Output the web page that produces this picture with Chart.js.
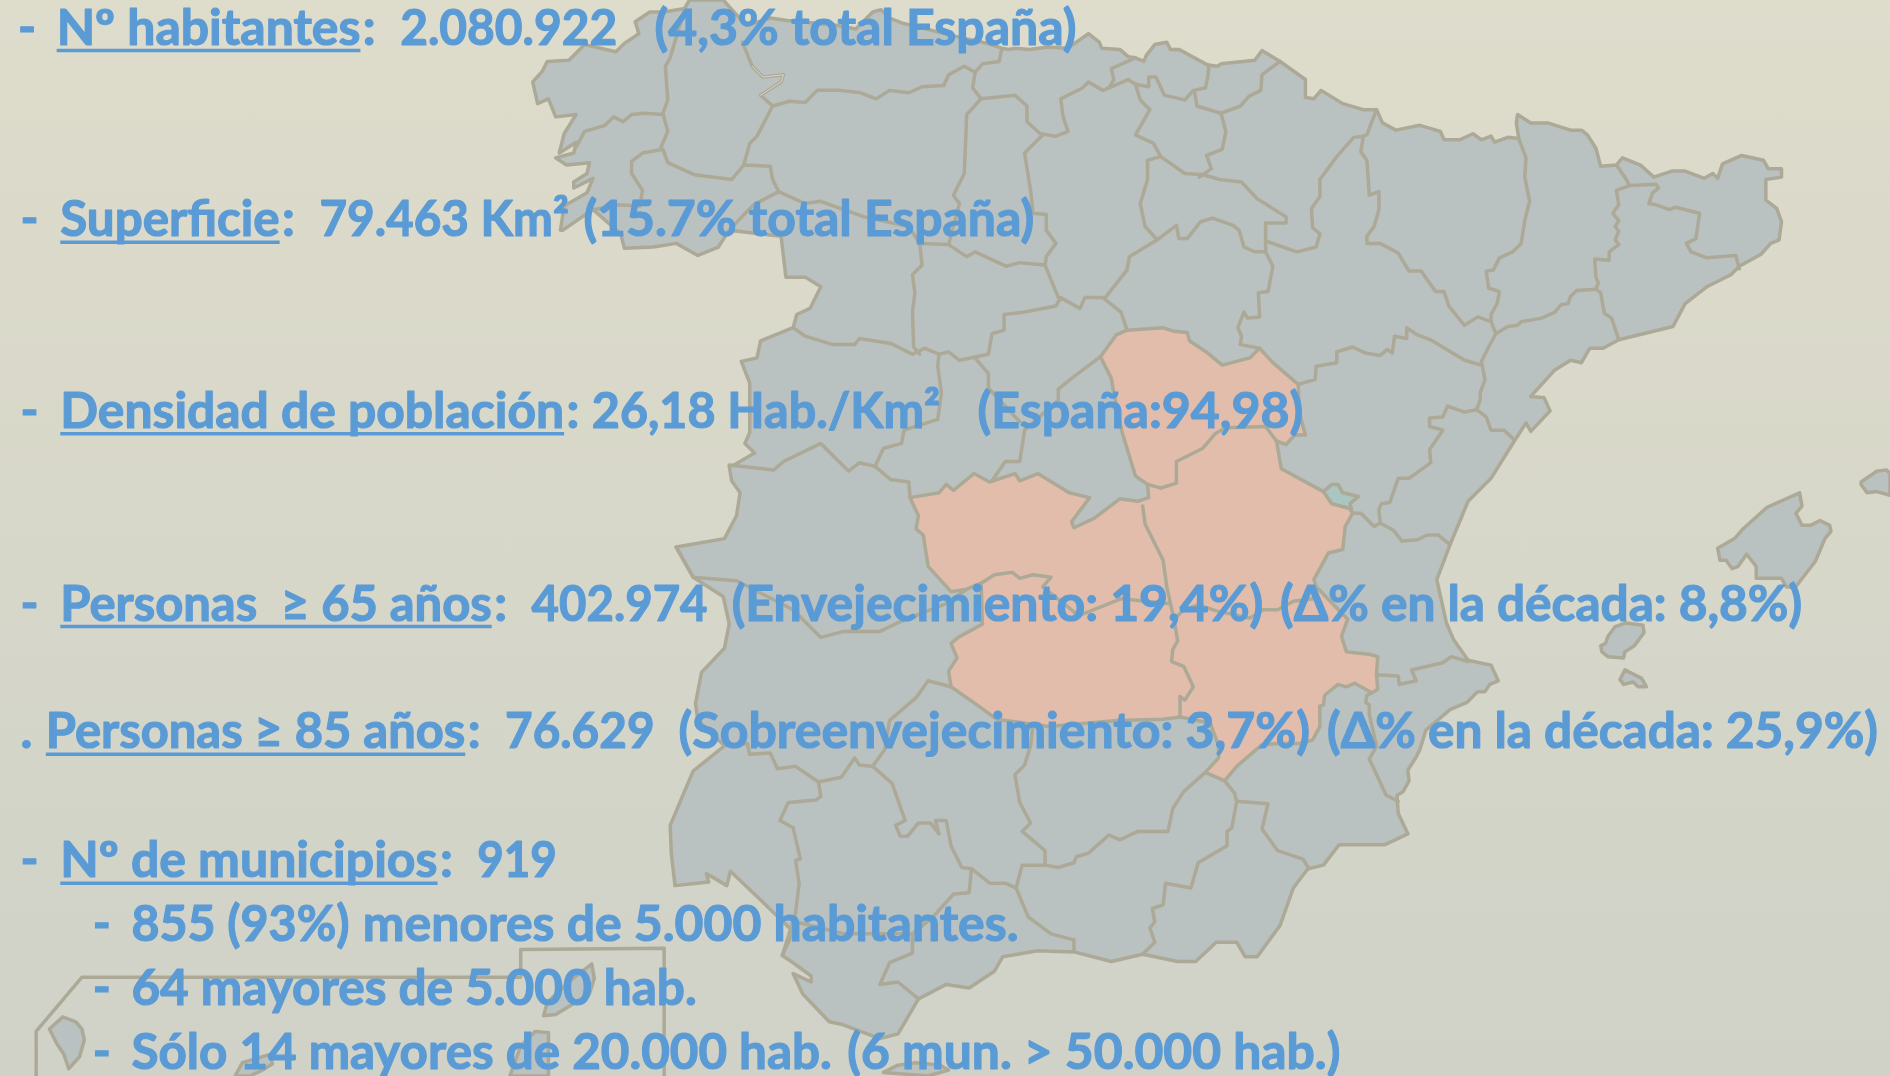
<!DOCTYPE html>
<html>
<head>
<meta charset="utf-8">
<title>Castilla-La Mancha</title>
<script src="https://cdn.jsdelivr.net/npm/chart.js@4"></script>
<style>
  html, body { margin: 0; padding: 0; background: linear-gradient(#dedccb, #d0d2c8); height: 1076px; overflow: hidden; }
  canvas { display: block; }
</style>
</head>
<body>
<canvas id="mapChart" width="1890" height="1076"></canvas>
<script>
// outlines, in the coordinates of the axes below
const mainland = [[572,0],[600,0],[619,21],[639,15],[653,17],[694,21],[710,24],[724,10],[731,8],[738,15],[748,19],[768,24],[792,30],[819,36],[831,40],[837,41],[842,40],[854,41],[870,39],[885,40],[893,35],[903,28],[912,35],[914,40],[929,41],[936,47],[942,48],[949,51],[951,46],[958,37],[968,35],[971,41],[978,41],[1002,54],[1010,55],[1013,53],[1041,50],[1047,42],[1062,51],[1083,66],[1083,81],[1090,82],[1096,75],[1114,86],[1131,91],[1142,91],[1147,102],[1158,108],[1178,104],[1195,109],[1198,116],[1211,116],[1222,111],[1229,116],[1237,113],[1240,118],[1251,114],[1260,115],[1258,102],[1259,95],[1270,102],[1284,102],[1303,108],[1312,108],[1317,112],[1324,123],[1328,138],[1341,137],[1346,131],[1361,137],[1372,147],[1387,142],[1398,142],[1414,148],[1421,144],[1425,148],[1429,136],[1445,129],[1463,133],[1467,140],[1478,140],[1478,147],[1465,149],[1465,166],[1474,173],[1478,184],[1476,199],[1469,202],[1461,211],[1443,221],[1436,228],[1416,238],[1398,252],[1388,271],[1343,282],[1330,289],[1319,289],[1312,301],[1303,299],[1290,307],[1270,329],[1281,330],[1286,341],[1270,358],[1266,351],[1257,365],[1237,397],[1218,416],[1203,452],[1192,481],[1200,517],[1206,531],[1218,548],[1237,552],[1243,565],[1236,568],[1232,574],[1226,574],[1217,583],[1203,589],[1183,606],[1178,622],[1175,628],[1168,639],[1169,648],[1164,657],[1159,660],[1160,675],[1168,692],[1149,701],[1111,701],[1098,718],[1085,721],[1073,737],[1062,768],[1043,794],[1033,794],[1026,782],[1009,782],[992,798],[977,798],[948,792],[922,798],[891,790],[861,789],[832,794],[825,806],[804,820],[785,817],[762,829],[745,858],[730,862],[698,850],[688,848],[666,825],[658,808],[673,815],[673,810],[658,799],[649,793],[658,773],[628,744],[606,723],[603,735],[586,725],[588,732],[560,735],[557,709],[556,685],[575,640],[601,619],[579,598],[577,584],[582,558],[601,538],[605,518],[600,495],[575,479],[561,454],[601,447],[611,428],[614,409],[607,399],[605,387],[609,386],[626,376],[618,368],[622,359],[622,318],[615,300],[628,297],[631,283],[658,272],[661,261],[672,256],[681,238],[668,230],[652,230],[648,196],[605,191],[596,205],[579,212],[561,202],[542,205],[518,206],[515,194],[492,174],[483,180],[467,191],[465,191],[468,171],[487,160],[492,148],[476,156],[476,151],[487,144],[489,135],[470,137],[461,131],[476,127],[478,118],[464,127],[468,111],[478,95],[461,97],[455,82],[446,86],[442,68],[450,59],[454,51],[472,50],[485,37],[511,43],[518,36],[530,28],[527,18],[539,10],[551,10],[568,7]];
const castillaLaMancha = [[913,296],[926,278],[935,274],[965,272],[974,275],[985,276],[987,283],[1002,293],[1014,303],[1037,297],[1045,289],[1056,301],[1077,319],[1078,343],[1083,361],[1074,361],[1067,369],[1059,366],[1063,389],[1098,408],[1105,418],[1120,422],[1122,426],[1116,437],[1114,456],[1102,459],[1090,481],[1092,487],[1118,514],[1113,528],[1117,541],[1136,543],[1143,545],[1142,560],[1143,572],[1138,575],[1124,567],[1117,570],[1110,568],[1099,577],[1098,585],[1095,586],[1095,603],[1089,614],[1080,617],[1060,617],[1047,618],[1026,636],[1016,648],[1000,641],[1011,629],[1011,619],[1004,600],[979,595],[965,597],[927,598],[870,603],[827,597],[812,586],[789,570],[787,557],[794,546],[789,534],[795,529],[815,518],[814,484],[802,489],[789,491],[770,470],[766,444],[760,439],[762,428],[755,413],[779,409],[785,402],[791,407],[808,393],[821,400],[842,393],[846,399],[861,393],[887,409],[904,413],[889,433],[891,438],[908,430],[929,414],[944,416],[953,413],[952,402],[942,395],[931,359],[924,326],[922,314]];
const rinconAdemuz = [[1098,408],[1105,402],[1110,402],[1114,409],[1127,412],[1120,418],[1122,426],[1120,422],[1105,418]];
const mallorca = [[1493,409],[1466,421],[1446,439],[1439,447],[1425,455],[1427,465],[1432,465],[1437,472],[1442,470],[1449,460],[1457,470],[1457,480],[1478,480],[1482,487],[1489,488],[1506,466],[1514,447],[1519,441],[1518,436],[1510,432],[1502,436],[1495,436],[1490,426],[1495,420]];
const ibiza = [[1363,519],[1349,517],[1340,520],[1334,528],[1332,534],[1328,536],[1329,541],[1334,545],[1347,546],[1348,541],[1356,536],[1364,525]];
const formentera = [[1348,556],[1344,564],[1347,568],[1355,566],[1359,570],[1366,570],[1362,563]];
const menorca = [[1544,400],[1557,391],[1565,390],[1568,393],[1568,411],[1557,408],[1549,409],[1544,402]];
const laPalma = [[52,844],[63,848],[68,854],[70,863],[66,877],[57,887],[53,875],[47,866],[41,854]];
const fuerteventura = [[491,800],[493,812],[489,825],[461,842],[451,843],[454,832],[474,813],[487,803]];
const granCanaria = [[423,893],[432,868],[444,856],[455,857],[455,893]];
const tenerife = [[195,893],[201,882],[224,875],[226,883],[216,889],[207,893]];
const ceuta = [[733,890],[745,884],[760,882],[780,884],[787,888],[770,893]];

// province borders
const canaryBox = [[30,893],[30,856],[68,811],[432,811],[432,788],[551,787],[551,893]];
const galiciaBorders = [
  [[568,7],[556,48],[552,55],[554,83],[550,94],[554,109],[548,123]],
  [[550,95],[535,94],[524,95],[517,101],[509,97],[502,104],[485,109],[478,122]],
  [[549,124],[533,127],[524,134],[524,144],[533,158],[531,171],[513,170],[492,174]],
  [[550,124],[554,135],[576,145],[607,149],[617,137]],
  [[616,35],[624,55],[633,64],[650,62],[648,68],[631,79],[641,88],[628,113],[622,119],[617,137],[639,138],[641,149],[646,159],[625,170],[605,191]]
];
const leonBorders = [
  [[641,88],[655,84],[668,85],[678,75],[697,75],[714,77],[727,82],[738,75],[754,77],[765,72],[783,71],[787,62],[800,55],[809,60],[815,53],[829,51],[831,41]],
  [[809,60],[807,73],[814,82],[842,79],[852,88],[852,101],[863,111],[876,113],[886,109],[882,97],[880,82],[898,73],[903,68],[915,75],[920,73],[936,66],[942,70],[953,72],[953,64],[959,64],[966,79],[975,81],[983,83],[990,75],[1000,73],[1002,64],[1003,54]],
  [[920,73],[924,66],[922,57],[942,48]],
  [[814,82],[802,95],[800,144],[791,162],[796,169],[787,203],[802,213],[809,209],[835,221],[846,218],[867,220],[878,247]],
  [[646,159],[668,169],[680,167],[717,180],[754,188],[763,202],[787,203]],
  [[763,202],[765,220],[757,228],[759,243],[757,259],[758,288],[763,294]],
  [[658,272],[668,279],[691,286],[709,286],[713,281],[739,285],[757,294],[767,289],[779,294],[787,292],[796,299],[820,294],[823,277],[833,274],[833,261],[850,259],[876,254],[880,247],[896,256],[900,247],[915,247],[930,259],[935,274]],
  [[865,112],[850,127],[855,158],[857,177],[868,178],[868,191],[876,202],[868,213],[867,220]],
  [[605,386],[642,390],[650,383],[681,368],[692,379],[704,391],[713,384],[726,387],[739,398],[754,400],[755,413]],
  [[726,387],[733,372],[748,368],[750,357],[778,348],[781,326],[778,304],[779,294]],
  [[809,297],[820,310],[820,322],[846,350]],
  [[913,296],[889,314],[878,323],[878,332],[850,357],[846,383],[834,383],[823,399]]
];
const northBorders = [
  [[942,70],[946,83],[954,91],[942,112],[957,119],[963,130],[952,133],[952,149],[946,169],[950,188],[960,199],[937,213],[935,224],[917,247]],
  [[960,199],[976,187],[978,198],[985,198],[996,184],[1006,181],[1023,187],[1028,191],[1032,205],[1041,209],[1050,209]],
  [[963,130],[983,144],[998,145],[1012,149],[1030,151],[1043,165],[1067,180],[1067,185],[1050,185],[1050,209],[1056,221],[1052,242],[1044,243],[1045,263],[1035,264],[1032,259],[1027,272],[1030,279],[1029,286],[1045,289]],
  [[991,76],[993,88],[1013,94],[1017,109],[1014,124],[1001,129],[1005,140],[995,147]],
  [[1062,51],[1047,62],[1046,75],[1036,80],[1029,88],[1013,94]],
  [[1050,200],[1076,209],[1092,205],[1095,194],[1089,189],[1088,173],[1095,163],[1095,149],[1109,130],[1123,114],[1131,113],[1134,112],[1142,91]],
  [[1131,113],[1129,126],[1134,133],[1136,162],[1144,159],[1144,174],[1140,188],[1134,196],[1134,202],[1145,202],[1160,210],[1169,225],[1179,225],[1191,242],[1198,242],[1202,254],[1215,270],[1226,263],[1237,267]]
];
const eastBorders = [
  [[1260,115],[1266,131],[1265,147],[1269,167],[1265,183],[1262,202],[1255,209],[1244,214],[1239,224],[1233,225],[1235,239],[1244,242],[1242,252],[1237,261],[1237,267],[1241,277]],
  [[1341,137],[1348,147],[1352,154],[1374,153],[1376,156],[1371,160],[1368,169],[1374,170],[1385,174],[1390,172],[1410,177],[1407,198],[1399,202],[1403,209],[1416,214],[1440,212],[1443,223]],
  [[1352,154],[1341,158],[1343,170],[1338,177],[1343,183],[1340,188],[1343,192],[1340,199],[1343,203],[1335,209],[1335,216],[1323,215],[1324,230],[1326,235],[1324,240],[1328,243],[1331,260],[1337,264],[1343,282]],
  [[1324,240],[1308,241],[1303,246],[1301,252],[1295,253],[1290,259],[1279,264],[1262,267],[1259,270],[1251,271],[1241,277],[1235,288],[1229,300],[1232,315],[1228,326],[1228,332],[1225,340],[1233,346],[1237,357],[1248,357],[1256,365]],
  [[1229,303],[1215,299],[1187,282],[1176,278],[1167,272],[1167,281],[1157,279],[1155,293],[1151,290],[1145,295],[1133,293],[1122,288],[1109,292],[1109,301],[1092,304],[1091,315],[1077,319]],
  [[1203,452],[1193,444],[1184,444],[1176,448],[1163,449],[1156,440],[1145,434],[1144,423],[1146,418],[1153,417],[1160,397],[1169,397],[1187,384],[1186,373],[1197,357],[1186,354],[1186,347],[1197,346],[1201,337],[1215,342],[1225,340]],
  [[1122,426],[1129,426],[1140,437],[1145,434]],
  [[1142,560],[1160,561],[1161,568],[1175,565],[1171,556],[1197,550],[1204,545],[1218,549]],
  [[1138,575],[1134,577],[1133,583],[1136,585],[1136,593],[1142,619],[1136,630],[1150,660],[1160,665]]
];
const southBorders = [
  [[561,454],[575,479],[611,482],[658,506],[681,529],[700,524],[730,524],[749,515],[785,501],[802,489]],
  [[601,619],[620,617],[622,626],[639,625],[645,638],[660,636],[679,649],[698,645],[709,629],[713,635],[724,636],[734,622],[738,598],[760,579],[770,565],[789,570]],
  [[679,649],[681,661],[677,664],[654,666],[647,681],[658,687],[664,713],[660,714],[663,733],[660,758],[649,793]],
  [[724,636],[740,650],[751,681],[743,685],[747,694],[753,694],[762,683],[772,683],[779,692],[776,681],[785,681],[789,702],[798,720],[806,721],[821,733],[834,733],[843,737]],
  [[806,721],[804,741],[791,742],[774,761],[757,775],[757,791],[738,799],[730,817],[745,815],[762,829]],
  [[660,765],[700,775],[757,775]],
  [[843,737],[848,718],[867,718],[867,706],[848,690],[855,683],[846,666],[842,643],[850,635],[855,619],[857,601]],
  [[867,718],[878,720],[891,716],[893,711],[903,708],[920,693],[929,697],[944,690],[969,690],[973,671],[982,657],[1000,641]],
  [[1016,648],[1024,658],[1026,665],[1022,687],[1018,690],[1018,702],[994,716],[988,737],[967,733],[965,751],[956,754],[958,765],[954,770],[958,782],[948,792]],
  [[1026,665],[1052,667],[1047,688],[1060,706],[1081,713],[1086,721]],
  [[843,737],[853,761],[872,775],[891,780],[891,790]]
];
const manchaBorders = [
  [[948,420],[950,435],[965,465],[968,487],[974,514],[977,532],[973,539],[972,549],[982,553],[990,570],[983,581],[979,578],[979,595]],
  [[974,514],[982,506],[994,502],[1009,507],[1037,513],[1048,506],[1060,506],[1073,499],[1090,497]],
  [[963,405],[976,401],[976,383],[998,372],[1008,360],[1017,355],[1050,354],[1059,366]],
  [[814,484],[825,477],[840,475],[846,480],[857,477],[872,479],[865,487],[895,511],[930,497],[971,501]],
  [[952,402],[963,405]]
];
const lugoGapLine = [[624,55],[633,64],[650,62],[648,68],[631,79]];

// text of the slide, one list of pieces per row
const textPieces = [
  ['-', 'Nº habitantes', ':', '2.080.922', '(4,3% total España)'],
  ['-', 'Superficie', ':', '79.463 Km²', '(15.7% total España)'],
  ['-', 'Densidad de población', ':', '26,18 Hab./Km²', '(España:94,98)'],
  ['-', 'Personas  ≥ 65 años', ':', '402.974', '(Envejecimiento: 19,4%)', '(Δ% en la década: 8,8%)'],
  ['.', 'Personas ≥ 85 años', ':', '76.629', '(Sobreenvejecimiento: 3,7%)', '(Δ% en la década: 25,9%)'],
  ['-', 'Nº de municipios', ':', '919'],
  ['-', '855 (93%)', 'menores de 5.000 habitantes.'],
  ['-', '64 mayores de 5.000 hab.'],
  ['-', 'Sólo 14 mayores de 20.000 hab.', '(6 mun. > 50.000 hab.)']
];
const pieceStart = [
  [15, 47, 301, 332, 543],
  [17, 50, 234, 265, 484],
  [17, 50, 470, 491, 811],
  [17, 50, 410, 441, 607, 1062],
  [17, 38, 388, 419, 563, 1101],
  [17, 50, 365, 396],
  [77, 109, 301],
  [77, 109],
  [77, 109, 703]
];
const pieceEnd = [
  [30, 299, 312, 512, 893],
  [32, 232, 245, 472, 858],
  [32, 468, 481, 780, 1082],
  [32, 408, 421, 587, 1048, 1495],
  [27, 386, 399, 543, 1090, 1558],
  [32, 363, 376, 462],
  [92, 290, 845],
  [92, 578],
  [92, 690, 1112]
];
const baseline = [37, 196, 355, 515, 621, 728, 781, 834, 887];
const underlineStart = [47, 50, 50, 50, 38, 50];
const underlineEnd = [299, 232, 468, 408, 386, 363];

const landColor = '#bac1c1';
const borderColor = '#ada997';
const manchaColor = '#e2bdab';
const ademuzColor = '#abc6c1';
const textColor = '#5b9bd5';

const toPoints = (list) => list.map(p => ({ x: p[0], y: p[1] }));

const shape = (list, color) => ({
    data: toPoints(list.concat([list[0]])),
    polygon: true,
    backgroundColor: color,
    borderColor: borderColor,
    borderWidth: 3.5
});

const line = (list) => ({
    data: toPoints(list),
    borderColor: borderColor,
    backgroundColor: 'transparent',
    borderWidth: 3.5
});

// fills a closed outline from the points the scatter controller placed
const polygonFill = {
    id: 'polygonFill',
    beforeDatasetDraw(chart, args) {
        const ds = chart.data.datasets[args.index];
        if (!ds.polygon) return;
        const ctx = chart.ctx;
        ctx.save();
        ctx.beginPath();
        args.meta.data.forEach((pt, i) => {
            if (i === 0) ctx.moveTo(pt.x, pt.y);
            else ctx.lineTo(pt.x, pt.y);
        });
        ctx.closePath();
        ctx.fillStyle = ds.backgroundColor;
        ctx.fill();
        ctx.restore();
    }
};

const slideText = {
    id: 'slideText',
    afterDatasetsDraw(chart) {
        const ctx = chart.ctx;
        const sx = chart.scales.x;
        const sy = chart.scales.y;
        ctx.save();
        ctx.fillStyle = textColor;
        ctx.strokeStyle = textColor;
        ctx.textAlign = 'left';
        ctx.textBaseline = 'alphabetic';
        ctx.lineJoin = 'round';
        ctx.font = 'bold 50px Lato';
        textPieces.forEach((row, i) => {
            const y = sy.getPixelForValue(baseline[i]);
            row.forEach((piece, j) => {
                const x0 = sx.getPixelForValue(pieceStart[i][j]);
                const x1 = sx.getPixelForValue(pieceEnd[i][j]);
                ctx.lineWidth = 1.2;
                ctx.fillText(piece, x0, y, x1 - x0);
                // calibri bold is heavier than lato bold
                ctx.strokeText(piece, x0, y, x1 - x0);
            });
            if (i < underlineStart.length) {
                ctx.lineWidth = 3.5;
                ctx.beginPath();
                ctx.moveTo(sx.getPixelForValue(underlineStart[i]), y + 6);
                ctx.lineTo(sx.getPixelForValue(underlineEnd[i]), y + 6);
                ctx.stroke();
            }
        });
        ctx.restore();
    }
};

const datasets = [
    shape(mainland, landColor),
    shape(castillaLaMancha, manchaColor),
    shape(rinconAdemuz, ademuzColor),
    shape(mallorca, landColor),
    shape(ibiza, landColor),
    shape(formentera, landColor),
    shape(menorca, landColor),
    shape(laPalma, landColor),
    shape(fuerteventura, landColor),
    shape(granCanaria, landColor),
    shape(tenerife, landColor),
    shape(ceuta, landColor),
    line(canaryBox)
];
[galiciaBorders, leonBorders, northBorders, eastBorders, southBorders, manchaBorders].forEach(group => {
    group.forEach(b => datasets.push(line(b)));
});
const lugoGap = line(lugoGapLine);
lugoGap.borderColor = '#d8d7c8';
lugoGap.borderWidth = 1;
datasets.push(lugoGap);

// chart.js paints the first dataset last, so put the later ones on top
datasets.forEach((d, i) => { d.order = datasets.length - i; });

const mapChart = new Chart(document.getElementById('mapChart'), {
    type: 'scatter',
    data: { datasets: datasets },
    options: {
        responsive: false,
        animation: false,
        showLine: true,
        layout: { padding: 0 },
        elements: {
            point: { radius: 0, hitRadius: 0, hoverRadius: 0 },
            line: { tension: 0, borderJoinStyle: 'round', borderCapStyle: 'round', fill: false }
        },
        plugins: { legend: { display: false }, tooltip: { enabled: false } },
        scales: {
            x: { type: 'linear', display: false, min: 0, max: 1568 },
            y: { type: 'linear', display: false, min: 0, max: 893, reverse: true }
        }
    },
    plugins: [polygonFill, slideText]
});
</script>
</body>
</html>
